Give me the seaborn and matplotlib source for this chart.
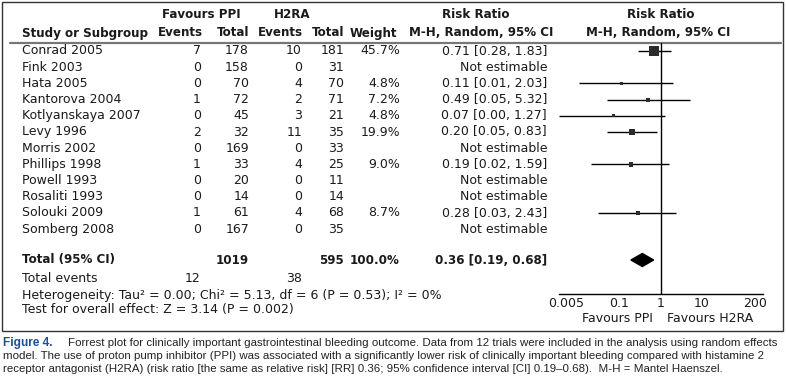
import numpy as np
import pandas as pd
import matplotlib.pyplot as plt
from matplotlib.patches import Rectangle, Polygon
import seaborn as sns

sns.set_style('white')
plt.rcParams['font.family'] = ['DejaVu Sans']

# ---- data ----
studies = ['Conrad 2005', 'Fink 2003', 'Hata 2005', 'Kantorova 2004', 'Kotlyanskaya 2007',
           'Levy 1996', 'Morris 2002', 'Phillips 1998', 'Powell 1993', 'Rosaliti 1993',
           'Solouki 2009', 'Somberg 2008']
ppi_events = [7, 0, 0, 1, 0, 2, 0, 1, 0, 0, 1, 0]
ppi_total = [178, 158, 70, 72, 45, 32, 169, 33, 20, 14, 61, 167]
h2ra_events = [10, 0, 4, 2, 3, 11, 0, 4, 0, 0, 4, 0]
h2ra_total = [181, 31, 70, 71, 21, 35, 33, 25, 11, 14, 68, 35]
weight = [45.7, np.nan, 4.8, 7.2, 4.8, 19.9, np.nan, 9.0, np.nan, np.nan, 8.7, np.nan]
rr = [0.71, np.nan, 0.11, 0.49, 0.07, 0.20, np.nan, 0.19, np.nan, np.nan, 0.28, np.nan]
ci_low = [0.28, np.nan, 0.01, 0.05, 0.00, 0.05, np.nan, 0.02, np.nan, np.nan, 0.03, np.nan]
ci_high = [1.83, np.nan, 2.03, 5.32, 1.27, 0.83, np.nan, 1.59, np.nan, np.nan, 2.43, np.nan]

total_ppi, total_h2ra = 1019, 595
events_ppi, events_h2ra = 12, 38
pooled_rr, pooled_low, pooled_high = 0.36, 0.19, 0.68
tick_vals = [0.005, 0.1, 1, 10, 200]
tick_labels = ['0.005', '0.1', '1', '10', '200']

df = pd.DataFrame({'study': studies, 'e1': ppi_events, 'n1': ppi_total,
                   'e2': h2ra_events, 'n2': h2ra_total, 'weight': weight,
                   'rr': rr, 'lo': ci_low, 'hi': ci_high})
df['ypos'] = 51 + 16.2 * np.arange(len(df))   # row positions in pixel space
est = df.dropna(subset=['rr'])

W, H = 786, 386
fig = plt.figure(figsize=(W / 100, H / 100), dpi=100)
bg = fig.add_axes([0, 0, 1, 1])
bg.set_xlim(0, W)
bg.set_ylim(H, 0)
bg.axis('off')

txt = '#1a1a1a'
fs = 9.0
fs_bold = 8.6

def put(x, y, s, ha='left', bold=False, **kw):
    bg.text(x, y, s, ha=ha, va='center', fontsize=fs_bold if bold else fs, color=txt,
            fontweight='bold' if bold else 'normal', **kw)

# frame and header rule
bg.add_patch(Rectangle((2, 2), 781, 329, fill=False, ec='#333333', lw=1))
bg.plot([10, 781], [43, 43], color='#777777', lw=1.6)

# headers
put(201, 15, 'Favours PPI', 'center', True)
put(292, 15, 'H2RA', 'center', True)
put(476, 15, 'Risk Ratio', 'center', True)
put(661, 15, 'Risk Ratio', 'center', True)
put(22, 33, 'Study or Subgroup', bold=True)
put(180, 33, 'Events', 'center', True)
put(233, 33, 'Total', 'center', True)
put(280, 33, 'Events', 'center', True)
put(328, 33, 'Total', 'center', True)
put(373, 33, 'Weight', 'center', True)
put(481, 33, 'M-H, Random, 95% CI', 'center', True)
put(658, 33, 'M-H, Random, 95% CI', 'center', True)

# study rows
for _, r in df.iterrows():
    y = r.ypos
    put(22, y, r.study)
    put(201, y, f'{r.e1}', 'right')
    put(249, y, f'{r.n1}', 'right')
    put(302, y, f'{r.e2}', 'right')
    put(344, y, f'{r.n2}', 'right')
    if np.isnan(r.rr):
        put(547, y, 'Not estimable', 'right')
    else:
        put(400, y, f'{r.weight:.1f}%', 'right')
        put(547, y, f'{r.rr:.2f} [{r.lo:.2f}, {r.hi:.2f}]', 'right')

# totals and summary statistics
put(22, 260, 'Total (95% CI)', bold=True)
put(249, 260, f'{total_ppi}', 'right', True)
put(344, 260, f'{total_h2ra}', 'right', True)
put(400, 260, '100.0%', 'right', True)
put(547, 260, f'{pooled_rr:.2f} [{pooled_low:.2f}, {pooled_high:.2f}]', 'right', True)
put(22, 279, 'Total events')
put(200, 279, f'{events_ppi}', 'right')
put(302, 279, f'{events_h2ra}', 'right')
put(22, 295, 'Heterogeneity: Tau² = 0.00; Chi² = 5.13, df = 6 (P = 0.53); I² = 0%')
put(22, 310, 'Test for overall effect: Z = 3.14 (P = 0.002)')
put(653, 318, 'Favours PPI', 'right')
put(667, 318, 'Favours H2RA')

# ---- forest panel ----
x0, x1, ytop, ybot = 559, 763, 43, 294
ax = fig.add_axes([x0 / W, (H - ybot) / H, (x1 - x0) / W, (ybot - ytop) / H])
ax.patch.set_alpha(0)
ax.set_xscale('log')
xmin, xmax = 10 ** -2.476, 10 ** 2.5
ax.set_xlim(xmin, xmax)
ax.set_ylim(ybot, ytop)

ax.axvline(1, color='black', lw=1)
ax.hlines(est['ypos'], np.clip(est['lo'], xmin, None), est['hi'], color='black', lw=1)
sns.scatterplot(data=est, x='rr', y='ypos', size='weight', sizes=(5.5, 52),
                marker='s', color='#2b2b2b', edgecolor='none', legend=False, ax=ax, zorder=3)
yt = 260
ax.add_patch(Polygon([(pooled_low, yt), (pooled_rr, yt - 6.5), (pooled_high, yt),
                      (pooled_rr, yt + 6.5)], closed=True, color='black'))

for s in ['top', 'left', 'right']:
    ax.spines[s].set_visible(False)
ax.spines['bottom'].set_color('black')
ax.spines['bottom'].set_linewidth(1)
ax.set_yticks([])
ax.set_xticks(tick_vals)
ax.set_xticklabels(tick_labels)
ax.minorticks_off()
ax.tick_params(axis='x', direction='inout', length=6, width=1, pad=-1,
               labelsize=fs, colors=txt)
ax.set_xlabel('')
ax.set_ylabel('')

# ---- caption ----
cap = dict(fontsize=8.25, color='#222222', va='center',
           family=['Liberation Sans Narrow', 'Liberation Sans', 'DejaVu Sans'])
bg.text(3, 343, 'Figure 4.', fontweight='bold', fontsize=8.6, color='#1f4e9a', va='center',
        family=['Liberation Sans', 'DejaVu Sans'])
bg.text(68, 343, 'Forrest plot for clinically important gastrointestinal bleeding outcome. '
        'Data from 12 trials were included in the analysis using random effects', **cap)
bg.text(3, 356, 'model. The use of proton pump inhibitor (PPI) was associated with a significantly '
        'lower risk of clinically important bleeding compared with histamine 2', **cap)
bg.text(3, 369, 'receptor antagonist (H2RA) (risk ratio [the same as relative risk] [RR] 0.36; '
        '95% confidence interval [CI] 0.19\u20130.68).  M-H = Mantel Haenszel.', **cap)

fig.savefig('out.png', dpi=100)
